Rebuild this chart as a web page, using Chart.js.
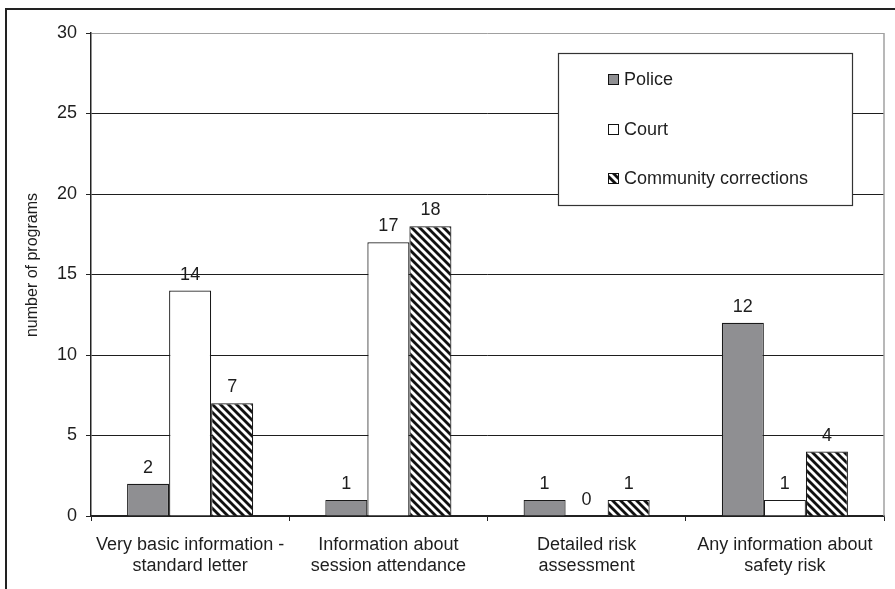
<!DOCTYPE html>
<html>
<head>
<meta charset="utf-8">
<script src="https://cdn.jsdelivr.net/npm/chart.js@4/dist/chart.umd.min.js"></script>
<style>
  html, body { margin: 0; padding: 0; background: #fff; }
  #wrap { width: 895px; height: 589px; position: relative; }
</style>
</head>
<body>
<div id="wrap"><canvas id="c" width="895" height="589"></canvas></div>
<script>
// Categories (two-line labels) and program counts per agency
const categories = [
  ["Very basic information -", "standard letter"],
  ["Information about", "session attendance"],
  ["Detailed risk", "assessment"],
  ["Any information about", "safety risk"]
];
const police = [2, 1, 1, 12];
const court = [14, 17, 0, 1];
const communityCorrections = [7, 18, 1, 4];
const yTicks = [0, 5, 10, 15, 20, 25, 30];
const yTitle = "number of programs";

const FONT = "'Liberation Sans', Arial, Helvetica, sans-serif";
const INK = '#1e1e1e';

// Diagonal hatch pattern for community corrections
function makeHatch(size, lw) {
  const c = document.createElement('canvas');
  c.width = size; c.height = size;
  const g = c.getContext('2d');
  g.fillStyle = '#fff';
  g.fillRect(0, 0, size, size);
  g.strokeStyle = '#111';
  g.lineWidth = lw;
  g.lineCap = 'square';
  for (let k = -1; k <= 1; k++) {
    g.beginPath();
    g.moveTo(k * size - 1, -1);
    g.lineTo(k * size + size + 1, size + 1);
    g.stroke();
  }
  return c;
}
const ctx0 = document.getElementById('c').getContext('2d');
const hatch = ctx0.createPattern(makeHatch(8, 2.8), 'repeat');

Chart.defaults.font.family = FONT;
Chart.defaults.font.size = 18;
Chart.defaults.color = INK;

// Frame, plot border, axis title, value labels and legend box
const decor = {
  id: 'decor',
  beforeDraw(chart) {
    const c = chart.ctx;
    c.save();
    c.fillStyle = '#fff';
    c.fillRect(0, 0, chart.width, chart.height);
    c.fillStyle = '#222';
    c.fillRect(5, 8, chart.width - 5, 2);
    c.fillRect(5, 8, 2, chart.height - 8);
    c.restore();
  },
  beforeDatasetsDraw(chart) {
    const c = chart.ctx, a = chart.chartArea;
    c.save();
    c.strokeStyle = '#a0a0a0';
    c.lineWidth = 1.5;
    c.beginPath();
    c.moveTo(a.right, a.top);
    c.lineTo(a.right, a.bottom);
    c.stroke();
    c.restore();
  },
  afterDraw(chart) {
    const c = chart.ctx;
    c.save();
    // rotated y-axis title
    c.translate(33, 265);
    c.rotate(-Math.PI / 2);
    c.font = '16px ' + FONT;
    c.fillStyle = INK;
    c.textAlign = 'center';
    c.textBaseline = 'middle';
    c.fillText(yTitle, 0, 0);
    c.restore();

    // value labels above each bar
    c.save();
    c.font = '18px ' + FONT;
    c.fillStyle = INK;
    c.textAlign = 'center';
    c.textBaseline = 'middle';
    chart.data.datasets.forEach((ds, di) => {
      chart.getDatasetMeta(di).data.forEach((bar, i) => {
        c.fillText(String(ds.data[i]), bar.x, bar.y - 16);
      });
    });
    c.restore();

    // legend box
    c.save();
    c.fillStyle = '#fff';
    c.fillRect(558, 53, 295, 153);
    c.strokeStyle = '#333';
    c.lineWidth = 1.2;
    c.strokeRect(558.5, 53.5, 294, 152);
    const rows = [79, 129, 178];
    c.font = '18px ' + FONT;
    c.textBaseline = 'middle';
    c.textAlign = 'left';
    chart.data.datasets.forEach((ds, di) => {
      const y = rows[di];
      c.fillStyle = ds.backgroundColor;
      c.fillRect(608, y - 5, 11, 11);
      c.strokeStyle = '#111';
      c.lineWidth = 1;
      c.strokeRect(608.5, y - 4.5, 10, 10);
      c.fillStyle = INK;
      c.fillText(ds.label, 624, y + 1);
    });
    c.restore();
  }
};

new Chart(ctx0, {
  type: 'bar',
  data: {
    labels: categories,
    datasets: [
      { label: 'Police', data: police, backgroundColor: '#8f8f92' },
      { label: 'Court', data: court, backgroundColor: '#ffffff' },
      { label: 'Community corrections', data: communityCorrections, backgroundColor: hatch }
    ]
  },
  options: {
    responsive: false,
    animation: false,
    devicePixelRatio: 1,
    layout: { padding: { top: 33, right: 11, left: 0, bottom: 0 } },
    datasets: {
      bar: {
        categoryPercentage: 0.636,
        barPercentage: 1.0,
        borderColor: '#1a1a1a',
        borderWidth: 1.2,
        borderSkipped: 'start'
      }
    },
    plugins: {
      legend: { display: false },
      tooltip: { enabled: false }
    },
    scales: {
      x: {
        offset: true,
        afterFit(s) { s.height = 73; },
        grid: {
          offset: true,
          drawOnChartArea: false,
          drawTicks: true,
          tickLength: 5,
          tickColor: '#222'
        },
        border: { display: true, color: '#222', width: 1.5 },
        ticks: {
          padding: 13,
          maxRotation: 0,
          autoSkip: false,
          font: { size: 18, lineHeight: 1.2 },
          color: INK
        }
      },
      y: {
        min: 0,
        max: 30,
        afterFit(s) { s.width = 91; },
        afterBuildTicks(s) { s.ticks = yTicks.map(v => ({ value: v })); },
        grid: {
          color: (ctx) => ctx.tick && ctx.tick.value === 30 ? '#a0a0a0' : '#1e1e1e',
          lineWidth: 1,
          tickLength: 5,
          tickColor: '#222'
        },
        border: { display: true, color: '#222', width: 1.5 },
        ticks: { padding: 9, color: INK, font: { size: 18 } }
      }
    }
  },
  plugins: [decor]
});
</script>
</body>
</html>
